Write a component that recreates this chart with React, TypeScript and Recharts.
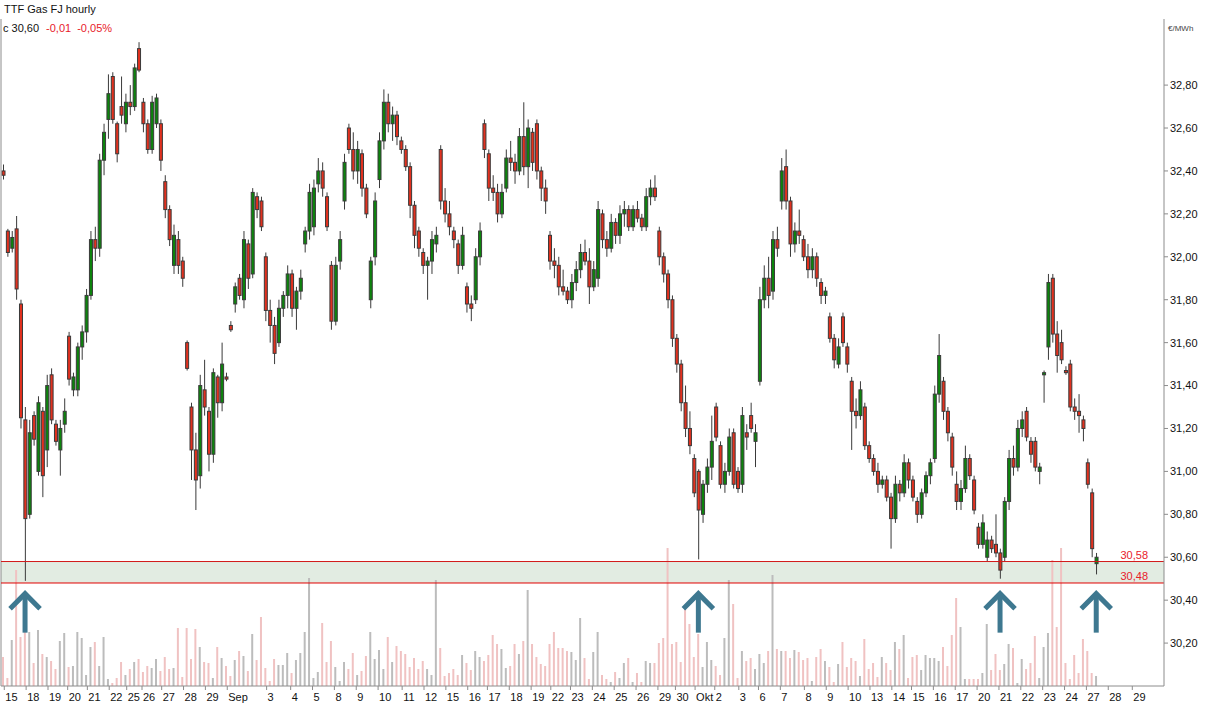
import { Bar, Cell, ComposedChart, ReferenceArea, ReferenceDot, ReferenceLine, XAxis, YAxis } from "recharts"

// trading days on the time axis and how many hourly slots each one takes
const dayLabels = [
  "15", "18", "19", "20", "21", "22", "25", "26", "27", "28", "29", "Sep", "3", "4", "5", "8", "9", "10",
  "11", "12", "15", "16", "17", "18", "19", "22", "23", "24", "25", "26", "29", "30", "Okt", "2", "3",
  "6", "7", "8", "9", "10", "13", "14", "15", "16", "17", "20", "21", "22", "23", "24", "27", "28", "29",
]
const dayHours = [
  10, 10, 9, 9, 10, 8, 7, 9, 10, 10, 10, 18, 11, 10, 10, 10, 10, 11, 10, 10, 10, 9, 10, 10, 9, 9,
  10, 10, 10, 10, 8, 9, 9, 11, 9, 10, 11, 10, 10, 10, 10, 9, 10, 10, 10, 10, 10, 10, 10, 10, 10, 11,
]
const firstDayStart = 1.5
const hoursShown = 532

const priceTicks = [30.2, 30.4, 30.6, 30.8, 31.0, 31.2, 31.4, 31.6, 31.8, 32.0, 32.2, 32.4, 32.6, 32.8]
const zoneTop = 30.58
const zoneBottom = 30.48
const lastClose = "30,60"
const lastChange = "-0,01"
const lastChangePct = "-0,05%"

// two-hour candles: open, high, low, close in euro cents
const ohlc: [number, number, number, number][] = [
  [3240, 3243, 3236, 3238], [3212, 3213, 3200, 3202], [3204, 3212, 3202, 3209], [3213, 3219, 3180, 3185], [3178, 3180, 3120, 3125],
  [3124, 3130, 3049, 3078], [3080, 3124, 3078, 3118], [3126, 3128, 3112, 3115], [3100, 3135, 3098, 3132], [3128, 3130, 3088, 3098],
  [3110, 3145, 3102, 3140], [3145, 3148, 3122, 3124], [3122, 3124, 3112, 3114], [3110, 3124, 3098, 3120], [3122, 3134, 3118, 3128],
  [3163, 3165, 3140, 3143], [3138, 3146, 3135, 3144], [3138, 3160, 3135, 3158], [3158, 3168, 3152, 3165], [3165, 3185, 3160, 3182],
  [3182, 3212, 3180, 3208], [3208, 3214, 3198, 3204], [3204, 3248, 3200, 3245], [3245, 3262, 3238, 3258], [3264, 3285, 3255, 3276],
  [3284, 3286, 3262, 3264], [3262, 3263, 3244, 3248], [3270, 3284, 3262, 3266], [3262, 3276, 3258, 3272], [3272, 3280, 3266, 3270],
  [3270, 3290, 3268, 3288], [3297, 3300, 3286, 3287], [3272, 3274, 3258, 3262], [3262, 3264, 3248, 3250], [3250, 3275, 3248, 3272],
  [3262, 3276, 3260, 3274], [3262, 3264, 3240, 3245], [3235, 3238, 3218, 3222], [3222, 3224, 3205, 3208], [3196, 3215, 3192, 3210],
  [3208, 3212, 3192, 3196], [3198, 3200, 3186, 3190], [3160, 3161, 3147, 3148], [3130, 3132, 3096, 3110], [3110, 3118, 3082, 3096],
  [3098, 3145, 3092, 3140], [3138, 3152, 3126, 3130], [3128, 3130, 3100, 3108], [3108, 3148, 3104, 3146], [3144, 3145, 3125, 3132],
  [3132, 3160, 3128, 3150], [3144, 3146, 3142, 3143], [3168, 3170, 3165, 3166], [3178, 3188, 3174, 3186], [3190, 3192, 3180, 3182],
  [3180, 3212, 3176, 3208], [3206, 3208, 3185, 3190], [3192, 3232, 3190, 3230], [3228, 3230, 3218, 3222], [3226, 3228, 3212, 3214],
  [3200, 3202, 3170, 3175], [3175, 3180, 3160, 3168], [3168, 3172, 3150, 3155], [3160, 3180, 3158, 3176], [3176, 3184, 3172, 3182],
  [3182, 3196, 3176, 3192], [3192, 3194, 3172, 3176], [3176, 3186, 3166, 3184], [3184, 3194, 3180, 3190], [3206, 3214, 3202, 3212],
  [3212, 3234, 3208, 3230], [3214, 3236, 3210, 3232], [3234, 3246, 3230, 3240], [3240, 3244, 3228, 3232], [3228, 3230, 3212, 3214],
  [3196, 3198, 3166, 3170], [3170, 3200, 3168, 3196], [3198, 3212, 3194, 3208], [3226, 3248, 3222, 3244], [3260, 3262, 3248, 3250],
  [3250, 3258, 3236, 3240], [3240, 3254, 3234, 3250], [3248, 3250, 3228, 3232], [3232, 3234, 3218, 3220], [3180, 3200, 3176, 3198],
  [3200, 3230, 3196, 3226], [3236, 3258, 3232, 3254], [3254, 3278, 3250, 3272], [3272, 3276, 3258, 3262], [3262, 3270, 3254, 3266],
  [3266, 3268, 3252, 3256], [3254, 3256, 3248, 3250], [3250, 3252, 3240, 3242], [3242, 3244, 3218, 3224], [3224, 3226, 3204, 3210],
  [3212, 3214, 3200, 3204], [3202, 3204, 3192, 3196], [3196, 3200, 3180, 3198], [3198, 3212, 3192, 3208], [3206, 3214, 3202, 3210],
  [3250, 3252, 3222, 3226], [3226, 3232, 3216, 3220], [3220, 3226, 3210, 3214], [3212, 3214, 3204, 3208], [3206, 3208, 3192, 3196],
  [3196, 3214, 3194, 3210], [3186, 3188, 3174, 3178], [3178, 3182, 3170, 3176], [3180, 3204, 3178, 3200], [3200, 3216, 3196, 3212],
  [3262, 3264, 3246, 3250], [3248, 3250, 3226, 3232], [3232, 3238, 3226, 3230], [3230, 3234, 3216, 3220], [3220, 3234, 3218, 3230],
  [3232, 3250, 3230, 3246], [3246, 3254, 3240, 3244], [3244, 3248, 3234, 3240], [3240, 3260, 3238, 3256], [3256, 3272, 3238, 3242],
  [3242, 3264, 3232, 3260], [3258, 3260, 3240, 3244], [3262, 3264, 3236, 3240], [3240, 3242, 3226, 3232], [3232, 3236, 3220, 3226],
  [3210, 3212, 3194, 3198], [3198, 3204, 3190, 3196], [3196, 3200, 3182, 3186], [3186, 3194, 3182, 3184], [3184, 3186, 3178, 3180],
  [3180, 3192, 3176, 3188], [3188, 3198, 3184, 3194], [3194, 3206, 3190, 3202], [3202, 3208, 3196, 3198], [3198, 3204, 3178, 3186],
  [3186, 3198, 3184, 3194], [3190, 3226, 3186, 3222], [3220, 3222, 3204, 3208], [3208, 3212, 3200, 3204], [3204, 3220, 3202, 3216],
  [3216, 3218, 3206, 3210], [3210, 3224, 3206, 3220], [3220, 3226, 3214, 3222], [3222, 3224, 3212, 3214], [3214, 3224, 3212, 3222],
  [3222, 3226, 3216, 3218], [3218, 3220, 3212, 3214], [3214, 3232, 3212, 3228], [3228, 3236, 3224, 3232], [3232, 3238, 3226, 3228],
  [3212, 3214, 3196, 3200], [3200, 3202, 3188, 3192], [3192, 3194, 3176, 3180], [3180, 3182, 3158, 3162], [3162, 3164, 3146, 3150],
  [3150, 3152, 3128, 3132], [3132, 3140, 3116, 3120], [3120, 3128, 3108, 3112], [3106, 3108, 3088, 3090], [3100, 3101, 3059, 3082],
  [3080, 3096, 3076, 3094], [3094, 3106, 3090, 3102], [3102, 3126, 3096, 3114], [3130, 3132, 3114, 3116], [3112, 3114, 3092, 3094],
  [3094, 3104, 3090, 3100], [3100, 3120, 3098, 3116], [3118, 3120, 3092, 3094], [3100, 3102, 3090, 3092], [3094, 3130, 3090, 3126],
  [3118, 3122, 3110, 3116], [3126, 3132, 3118, 3120], [3114, 3122, 3102, 3118], [3142, 3186, 3140, 3180], [3180, 3196, 3176, 3190],
  [3190, 3200, 3176, 3182], [3184, 3212, 3180, 3208], [3208, 3214, 3200, 3204], [3226, 3246, 3222, 3240], [3242, 3250, 3222, 3226],
  [3226, 3228, 3200, 3206], [3206, 3216, 3202, 3212], [3212, 3222, 3206, 3210], [3208, 3210, 3198, 3200], [3200, 3206, 3190, 3194],
  [3194, 3204, 3190, 3200], [3200, 3202, 3186, 3190], [3188, 3190, 3178, 3182], [3182, 3186, 3178, 3184], [3172, 3174, 3160, 3162],
  [3162, 3164, 3148, 3152], [3150, 3162, 3148, 3158], [3172, 3174, 3158, 3160], [3158, 3160, 3146, 3150], [3142, 3144, 3110, 3128],
  [3128, 3134, 3120, 3126], [3126, 3142, 3124, 3138], [3130, 3132, 3110, 3112], [3112, 3114, 3104, 3106], [3106, 3108, 3098, 3100],
  [3100, 3104, 3090, 3094], [3094, 3098, 3092, 3096], [3096, 3098, 3086, 3088], [3088, 3090, 3064, 3078], [3078, 3098, 3076, 3094],
  [3094, 3096, 3086, 3090], [3090, 3108, 3088, 3104], [3104, 3106, 3092, 3096], [3096, 3098, 3086, 3088], [3086, 3088, 3076, 3080],
  [3080, 3092, 3078, 3090], [3090, 3100, 3088, 3098], [3098, 3106, 3094, 3104], [3106, 3140, 3104, 3136], [3136, 3164, 3132, 3154],
  [3142, 3144, 3124, 3128], [3128, 3130, 3114, 3118], [3116, 3118, 3098, 3102], [3094, 3100, 3082, 3086], [3086, 3096, 3082, 3092],
  [3092, 3112, 3090, 3106], [3106, 3108, 3096, 3098], [3096, 3098, 3080, 3082], [3074, 3076, 3064, 3066], [3066, 3080, 3064, 3076],
  [3060, 3072, 3058, 3068], [3068, 3070, 3062, 3064], [3066, 3080, 3060, 3062], [3062, 3064, 3050, 3054], [3060, 3088, 3058, 3086],
  [3086, 3110, 3082, 3106], [3106, 3112, 3098, 3102], [3102, 3124, 3100, 3120], [3120, 3128, 3116, 3124], [3128, 3130, 3114, 3116],
  [3114, 3116, 3104, 3108], [3114, 3116, 3100, 3102], [3100, 3104, 3094, 3102], [3145, 3147, 3132, 3146], [3158, 3192, 3152, 3188],
  [3190, 3192, 3160, 3164], [3164, 3170, 3146, 3154], [3160, 3166, 3150, 3152], [3147, 3149, 3145, 3146], [3150, 3152, 3128, 3130],
  [3130, 3134, 3124, 3128], [3128, 3136, 3118, 3126], [3124, 3126, 3114, 3120], [3104, 3106, 3092, 3094], [3090, 3092, 3060, 3064],
  [3057, 3062, 3052, 3060],
]

// traded volume per candle
const volumes = [
  29, 8, 46, 116, 49, 62, 54, 23, 56, 32, 29, 25, 17, 45, 53, 19, 20, 54, 48, 11,
  39, 44, 20, 49, 7, 3, 8, 24, 11, 17, 24, 27, 14, 20, 18, 27, 15, 29, 17, 18,
  58, 9, 58, 27, 57, 39, 24, 23, 8, 39, 28, 20, 10, 26, 35, 30, 15, 52, 26, 69,
  18, 5, 27, 21, 21, 33, 13, 26, 33, 54, 108, 8, 14, 63, 24, 45, 19, 5, 24, 17,
  33, 11, 15, 30, 54, 27, 36, 17, 49, 24, 40, 35, 32, 19, 28, 17, 25, 17, 11, 106,
  38, 10, 13, 17, 11, 31, 23, 16, 35, 29, 25, 31, 51, 42, 37, 18, 20, 42, 32, 45,
  96, 42, 29, 22, 20, 42, 54, 38, 38, 35, 34, 26, 68, 28, 7, 34, 54, 11, 7, 4,
  14, 8, 23, 28, 4, 13, 4, 25, 23, 23, 43, 48, 138, 42, 44, 24, 78, 62, 29, 52,
  19, 44, 26, 20, 11, 48, 106, 82, 8, 35, 25, 28, 17, 32, 23, 35, 111, 37, 35, 35,
  28, 36, 34, 26, 28, 5, 29, 37, 25, 19, 4, 22, 44, 19, 28, 25, 10, 47, 17, 23,
  9, 29, 23, 16, 44, 37, 51, 8, 29, 31, 16, 31, 28, 28, 25, 39, 20, 51, 88, 59,
  7, 7, 7, 7, 13, 62, 16, 32, 16, 22, 42, 38, 3, 27, 17, 23, 50, 8, 39, 53,
  126, 59, 138, 23, 7, 31, 13, 47, 35, 13, 10,
]
const volumeAxisMax = 667

// candles marked with a buy arrow under the support zone
const signalCandles = [5, 159, 228, 250]
const arrowPrice = 30.435

const dayStarts = dayLabels.map((_, i) => firstDayStart + dayHours.slice(0, i).reduce((a, b) => a + b, 0))

const rows = ohlc.map(([o, h, l, c], i) => ({
  t: 2 * i + 1,
  o: o / 100,
  h: h / 100,
  l: l / 100,
  c: c / 100,
  range: [l / 100, h / 100],
  vol: volumes[i],
}))

const RED = "#e2311f"
const GREEN = "#0c850c"
const EDGE = "#3a3a3a"
const AXIS = "#8c8c8c"
const TEXT_RED = "#e8202a"

function Candle(props: any) {
  const { x, y, width, height, payload } = props
  if (!payload) return null
  const { o, h, l, c } = payload
  const span = h - l
  const py = (v: number) => (span > 0 ? y + ((h - v) / span) * height : y)
  const cx = x + width / 2
  const top = py(Math.max(o, c))
  const bottom = py(Math.min(o, c))
  return (
    <g>
      <line x1={cx} x2={cx} y1={y} y2={y + height} stroke={EDGE} strokeWidth={1} />
      <rect
        x={x}
        y={top}
        width={width}
        height={Math.max(bottom - top, 1)}
        fill={c >= o ? GREEN : RED}
        stroke={EDGE}
        strokeWidth={1}
      />
    </g>
  )
}

function DayTick(props: any) {
  const { x, y, payload } = props
  const idx = dayStarts.findIndex((d) => Math.abs(d - payload.value) < 0.01)
  return (
    <text x={x + 1} y={y} dy="0.71em" fontSize={11} fill="#111" textAnchor="start">
      {dayLabels[idx]}
    </text>
  )
}

function Arrow(props: any) {
  const { cx, cy } = props
  return (
    <g stroke="#3e7890" strokeWidth={5} fill="none">
      <path d={`M${cx - 15},${cy + 16} L${cx},${cy + 1} L${cx + 15},${cy + 16}`} />
      <path d={`M${cx},${cy + 3} L${cx},${cy + 40}`} />
    </g>
  )
}

const levelLabel = (text: string) => (props: any) => {
  const vb = props.viewBox
  return (
    <text x={vb.x + vb.width - 16} y={vb.y - 3} textAnchor="end" fontSize={11} fill={TEXT_RED}>
      {text}
    </text>
  )
}

const fmt = (v: number) => v.toFixed(2).replace(".", ",")

export default function App() {
  return (
    <div
      style={{
        position: "absolute",
        left: 0,
        top: 0,
        width: 1206,
        height: 705,
        background: "#fff",
        fontFamily: '"Liberation Sans", Arial, sans-serif',
      }}
    >
      <ComposedChart
        width={1206}
        height={705}
        data={rows}
        margin={{ top: 19, right: 0, bottom: 0, left: 1 }}
        style={{ fontFamily: '"Liberation Sans", Arial, sans-serif' }}
      >
        <XAxis
          xAxisId="time"
          dataKey="t"
          type="number"
          domain={[0, hoursShown]}
          allowDataOverflow
          ticks={dayStarts}
          interval={0}
          tick={<DayTick />}
          tickSize={4}
          tickMargin={3}
          height={19}
          stroke={AXIS}
          tickLine={{ stroke: AXIS }}
        />
        <XAxis xAxisId="vt" dataKey="t" type="number" domain={[0, hoursShown]} allowDataOverflow hide />
        <YAxis
          yAxisId="price"
          orientation="right"
          domain={[30.0, 33.108]}
          allowDataOverflow
          ticks={priceTicks}
          interval={0}
          tickFormatter={fmt}
          width={42}
          tickSize={4}
          tickMargin={2}
          stroke={AXIS}
          tick={{ fontSize: 11, fill: "#111" }}
        />
        <YAxis yAxisId="vol" domain={[0, volumeAxisMax]} allowDataOverflow hide />

        <ReferenceArea
          xAxisId="time"
          yAxisId="price"
          y1={zoneBottom}
          y2={zoneTop}
          fill="#e2ece2"
          fillOpacity={1}
          stroke="none"
        />
        <Bar xAxisId="vt" yAxisId="vol" dataKey="vol" barSize={2} isAnimationActive={false}>
          {rows.map((r) => (
            <Cell key={r.t} fill={r.c >= r.o ? "#bcbcbc" : "#f0c2c2"} />
          ))}
        </Bar>
        <Bar
          xAxisId="time"
          yAxisId="price"
          dataKey="range"
          barSize={3}
          shape={<Candle />}
          isAnimationActive={false}
        />
        <ReferenceLine xAxisId="time" yAxisId="price" x={0} stroke={AXIS} />
        <ReferenceLine
          xAxisId="time"
          yAxisId="price"
          y={zoneTop}
          stroke="#d21a1a"
          label={levelLabel(fmt(zoneTop))}
        />
        <ReferenceLine
          xAxisId="time"
          yAxisId="price"
          y={zoneBottom}
          stroke="#e00000"
          label={levelLabel(fmt(zoneBottom))}
        />
        {signalCandles.map((i) => (
          <ReferenceDot
            key={i}
            xAxisId="time"
            yAxisId="price"
            x={rows[i].t}
            y={arrowPrice}
            r={0}
            shape={<Arrow />}
          />
        ))}
      </ComposedChart>

      <div style={{ position: "absolute", left: 4, top: 3, fontSize: 11, lineHeight: "12px", color: "#111" }}>
        TTF Gas FJ hourly
      </div>
      <div style={{ position: "absolute", left: 3, top: 22, fontSize: 11, lineHeight: "12px", color: "#111" }}>
        c {lastClose}
        <span style={{ color: TEXT_RED, marginLeft: 7 }}>{lastChange}</span>
        <span style={{ color: TEXT_RED, marginLeft: 6 }}>{lastChangePct}</span>
      </div>
      <div style={{ position: "absolute", left: 1168, top: 24, fontSize: 8, lineHeight: "9px", color: "#444" }}>
        €/MWh
      </div>
    </div>
  )
}
